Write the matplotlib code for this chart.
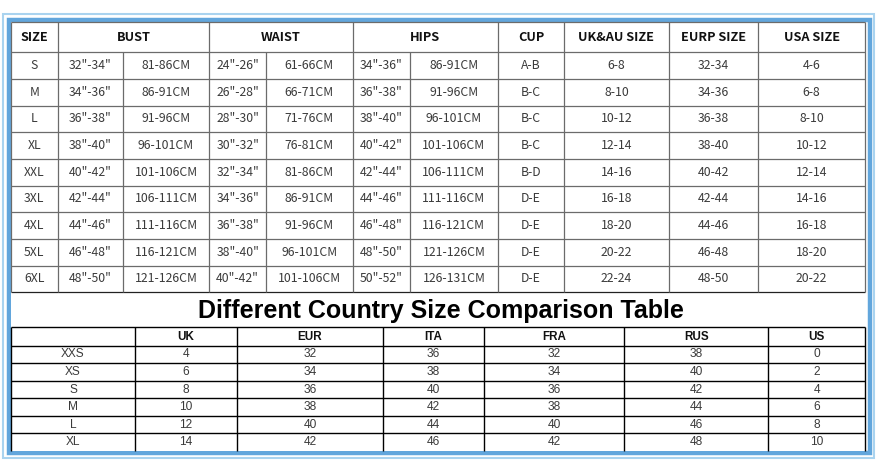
"""size chart: main size table plus the country size comparison table below it.

drawn in pixel coordinates on one full-figure axes (y grows downward).
"""
import matplotlib
matplotlib.use("Agg")
import matplotlib.pyplot as plt
from matplotlib.patches import Rectangle

# ---- data: main size table ----
SIZES = ["S", "M", "L", "XL", "XXL", "3XL", "4XL", "5XL", "6XL"]
BUST_IN = ['32"-34"', '34"-36"', '36"-38"', '38"-40"', '40"-42"',
           '42"-44"', '44"-46"', '46"-48"', '48"-50"']
BUST_CM = ["81-86CM", "86-91CM", "91-96CM", "96-101CM", "101-106CM",
           "106-111CM", "111-116CM", "116-121CM", "121-126CM"]
WAIST_IN = ['24"-26"', '26"-28"', '28"-30"', '30"-32"', '32"-34"',
            '34"-36"', '36"-38"', '38"-40"', '40"-42"']
WAIST_CM = ["61-66CM", "66-71CM", "71-76CM", "76-81CM", "81-86CM",
            "86-91CM", "91-96CM", "96-101CM", "101-106CM"]
HIPS_IN = ['34"-36"', '36"-38"', '38"-40"', '40"-42"', '42"-44"',
           '44"-46"', '46"-48"', '48"-50"', '50"-52"']
HIPS_CM = ["86-91CM", "91-96CM", "96-101CM", "101-106CM", "106-111CM",
           "111-116CM", "116-121CM", "121-126CM", "126-131CM"]
CUP = ["A-B", "B-C", "B-C", "B-C", "B-D", "D-E", "D-E", "D-E", "D-E"]
UK_AU = ["6-8", "8-10", "10-12", "12-14", "14-16", "16-18", "18-20", "20-22", "22-24"]
EURP = ["32-34", "34-36", "36-38", "38-40", "40-42", "42-44", "44-46", "46-48", "48-50"]
USA = ["4-6", "6-8", "8-10", "10-12", "12-14", "14-16", "16-18", "18-20", "20-22"]

TOP_HEADERS = ["SIZE", "BUST", "WAIST", "HIPS", "CUP", "UK&AU SIZE", "EURP SIZE", "USA SIZE"]

# ---- data: country comparison table ----
TITLE = "Different Country Size Comparison Table"
CMP_SIZES = ["XXS", "XS", "S", "M", "L", "XL"]
CMP_HEADERS = ["", "UK", "EUR", "ITA", "FRA", "RUS", "US"]
UK = [4, 6, 8, 10, 12, 14]
EUR = [32, 34, 36, 38, 40, 42]
ITA = [36, 38, 40, 42, 44, 46]
FRA = [32, 34, 36, 38, 40, 42]
RUS = [38, 40, 42, 44, 46, 48]
US = [0, 2, 4, 6, 8, 10]

# ---- layout (pixels) ----
W, H = 876, 469
LEFT, RIGHT = 11, 865
# top table column edges (sub columns included)
TOP_X = [LEFT, 57.7, 122.7, 209.3, 266, 352.7, 410, 497.7, 564.3, 668.7, 758.3, RIGHT]
# header groups: index ranges into TOP_X
GROUPS = [(0, 1), (1, 3), (3, 5), (5, 7), (7, 8), (8, 9), (9, 10), (10, 11)]
TOP_Y0, TOP_HDR = 22, 52.3
ROW_H = (292.3 - TOP_HDR) / len(SIZES)
TITLE_Y0, TITLE_Y1 = 292.3, 327.3
CMP_X = [LEFT, 135, 237.3, 382.7, 484.3, 624.3, 768.3, RIGHT]
CMP_HDR = 345.7
CMP_BOTTOM = 451
CMP_ROW_H = (CMP_BOTTOM - CMP_HDR) / len(CMP_SIZES)

TOP_FONT = "Noto Sans CJK KR"
CMP_FONT = "Liberation Sans"
GRID_GREY = "#6b6b6b"
TEXT_GREY = "#3a3a3a"


def drawFrame(ax):
    # outer thin light-blue line and the thicker blue frame inside it
    ax.add_patch(Rectangle((2.5, 14), 871, 444.5, fill=False,
                           edgecolor="#a9d3ef", linewidth=1.5))
    ax.add_patch(Rectangle((8.5, 20), 861, 433, fill=False,
                           edgecolor="#62a6dc", linewidth=3.2))
    ax.add_patch(Rectangle((LEFT, TOP_Y0), RIGHT - LEFT, CMP_BOTTOM - TOP_Y0,
                           facecolor="white", edgecolor="none"))


def drawTopTable(ax):
    lw = 0.9
    bottom = TOP_HDR + ROW_H * len(SIZES)
    # horizontal lines
    ax.hlines([TOP_Y0, TOP_HDR], LEFT, RIGHT, color=GRID_GREY, lw=lw)
    for i in range(1, len(SIZES) + 1):
        ax.hlines(TOP_HDR + ROW_H * i, LEFT, RIGHT,
                  color="#222222" if i == len(SIZES) else GRID_GREY, lw=lw)
    # vertical lines: group edges run full height, sub edges start below header
    group_edges = {g[0] for g in GROUPS} | {GROUPS[-1][1]}
    for k, x in enumerate(TOP_X):
        y0 = TOP_Y0 if k in group_edges else TOP_HDR
        ax.vlines(x, y0, bottom, color=GRID_GREY, lw=lw)

    yc = (TOP_Y0 + TOP_HDR) / 2
    for label, (a, b) in zip(TOP_HEADERS, GROUPS):
        ax.text((TOP_X[a] + TOP_X[b]) / 2, yc, label, ha="center", va="center",
                fontsize=9.2, fontweight="bold", family=[TOP_FONT, "DejaVu Sans"],
                color="#111111")

    cols = [SIZES, BUST_IN, BUST_CM, WAIST_IN, WAIST_CM, HIPS_IN, HIPS_CM,
            CUP, UK_AU, EURP, USA]
    for c, values in enumerate(cols):
        xc = (TOP_X[c] + TOP_X[c + 1]) / 2
        for r, v in enumerate(values):
            ax.text(xc, TOP_HDR + ROW_H * (r + 0.5), v, ha="center", va="center",
                    fontsize=8.8, family=[TOP_FONT, "DejaVu Sans"], color=TEXT_GREY)


def drawCompareTable(ax):
    lw = 1.0
    ax.text((LEFT + RIGHT) / 2 + 3, (TITLE_Y0 + TITLE_Y1) / 2 + 1, TITLE,
            ha="center", va="center", fontsize=18, fontweight="bold",
            family=CMP_FONT, color="black")
    ax.hlines(TITLE_Y1, LEFT, RIGHT, color="black", lw=lw)
    ax.hlines(CMP_HDR, LEFT, RIGHT, color="black", lw=lw)
    for i in range(1, len(CMP_SIZES)):
        ax.hlines(CMP_HDR + CMP_ROW_H * i, LEFT, RIGHT, color="black", lw=lw)
    ax.vlines(CMP_X, TITLE_Y1, CMP_BOTTOM, color="black", lw=lw)

    yc = (TITLE_Y1 + CMP_HDR) / 2
    for c, label in enumerate(CMP_HEADERS):
        ax.text((CMP_X[c] + CMP_X[c + 1]) / 2, yc, label, ha="center", va="center",
                fontsize=8.4, fontweight="bold", family=CMP_FONT, color="#111111")

    cols = [CMP_SIZES, UK, EUR, ITA, FRA, RUS, US]
    for c, values in enumerate(cols):
        xc = (CMP_X[c] + CMP_X[c + 1]) / 2
        for r, v in enumerate(values):
            ax.text(xc, CMP_HDR + CMP_ROW_H * (r + 0.5), str(v), ha="center",
                    va="center", fontsize=8.6, family=CMP_FONT, color=TEXT_GREY)


def main():
    fig = plt.figure(figsize=(W / 100, H / 100), dpi=100)
    ax = fig.add_axes([0, 0, 1, 1])
    ax.set_xlim(0, W)
    ax.set_ylim(H, 0)
    ax.axis("off")

    drawFrame(ax)
    drawTopTable(ax)
    drawCompareTable(ax)

    fig.savefig("out.png", dpi=100, facecolor="white")
    plt.close(fig)


if __name__ == "__main__":
    main()
